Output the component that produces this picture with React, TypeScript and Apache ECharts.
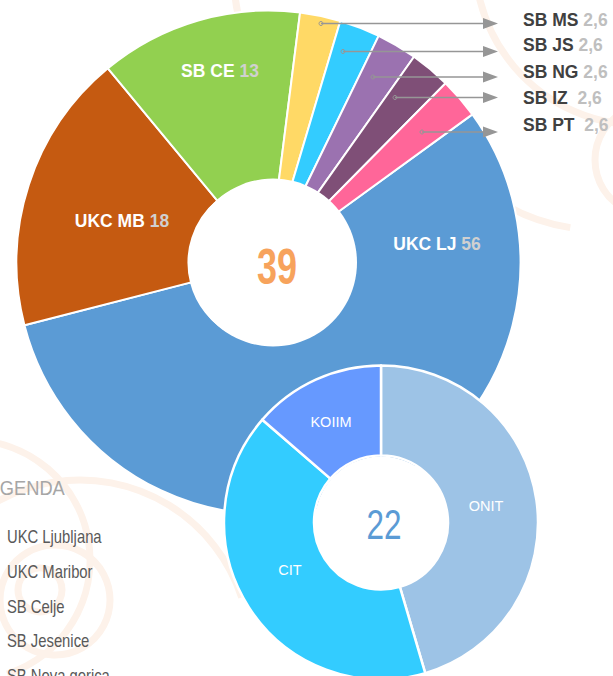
import React, { useEffect, useRef } from "react";
import * as echarts from "echarts";

// ---- data ----
const BIG_NAMES = ["UKC LJ", "UKC MB", "SB CE", "SB MS", "SB JS", "SB NG", "SB IZ", "SB PT"];
const BIG_VALUES = [56, 18, 13, 2.6, 2.6, 2.6, 2.6, 2.6];
const BIG_TOTAL = "39";
const SMALL_NAMES = ["ONIT", "CIT", "KOIIM"];
const SMALL_VALUES = [10, 9, 3];
const SMALL_TOTAL = "22";
const LEGEND_TITLE = "LEGENDA";
const LEGEND_LABELS = ["UKC Ljubljana", "UKC Maribor", "SB Celje", "SB Jesenice", "SB Nova gorica"];

// ---- styling / layout ----
const BIG_COLORS = ["#5b9bd5", "#c55a11", "#92d050", "#ffd966", "#33ccff", "#9b72b0", "#7f4f77", "#ff6699"];
const SMALL_COLORS = ["#9dc3e6", "#33ccff", "#6699ff"];
const BIG_LABEL_POS = [
  [437, 244, "center"], [122, 221, "center"], [220, 71, "center"],
  [523, 20, "left"], [523, 45, "left"], [523, 72, "left"], [523, 98, "left"], [523, 125, "left"],
];
const BIG_LABEL_GAP = [" ", " ", " ", " ", " ", " ", "  ", "  "];
const SMALL_LABEL_POS = [[486, 506], [290, 570], [331, 422]];
const ARROW_ROWS = [
  [321, 23.5], [343, 51.5], [373, 77], [395, 97.5], [422, 132],
];
const ARROW_TIP_X = 498;
const LEGEND_TOP = 537;
const LEGEND_STEP = 34.8;

const SANS = "'Liberation Sans', Arial, sans-serif";

const fmt = (v: number) => String(v).replace(".", ",");

export default function App() {
  const ref = useRef<HTMLDivElement>(null);
  useEffect(() => {
    if (!ref.current) return;
    const chart = echarts.init(ref.current, undefined, { renderer: "svg" });
    const swirl = "#fdf2ea";
    const bg = [
      { cx: 640, cy: -40, r: 165, s: Math.PI * 0.5, e: Math.PI * 1.05 },
      { cx: 650, cy: 160, r: 55, s: 0, e: Math.PI * 2 },
      { cx: 600, cy: 40, r: 190, s: Math.PI * 0.55, e: Math.PI * 0.95 },
      { cx: 330, cy: -10, r: 95, s: Math.PI * 0.5, e: Math.PI * 1.0 },
      { cx: 80, cy: 650, r: 170, s: Math.PI * 1.0, e: Math.PI * 1.9 },
      { cx: 55, cy: 600, r: 55, s: 0, e: Math.PI * 2 },
      { cx: 40, cy: 590, r: 22, s: 0, e: Math.PI * 2 },
      { cx: -30, cy: 560, r: 120, s: Math.PI * 1.5, e: Math.PI * 2.4 },
    ].map((a) => ({
      type: "arc",
      z: -10,
      shape: { cx: a.cx, cy: a.cy, r: a.r, startAngle: a.s, endAngle: a.e },
      style: { stroke: swirl, lineWidth: 7, fill: "none" },
      silent: true,
    }));

    const arrows: any[] = [];
    ARROW_ROWS.forEach(([x, y]) => {
      arrows.push({
        type: "line", z: 20,
        shape: { x1: x, y1: y, x2: ARROW_TIP_X - 12, y2: y },
        style: { stroke: "#969696", lineWidth: 1.5 },
      });
      arrows.push({
        type: "polygon", z: 20,
        shape: { points: [[ARROW_TIP_X - 15, y - 5.5], [ARROW_TIP_X, y], [ARROW_TIP_X - 15, y + 5.5]] },
        style: { fill: "#969696" },
      });
      arrows.push({
        type: "circle", z: 21,
        shape: { cx: x, cy: y, r: 2 },
        style: { fill: "none", stroke: "#969696", lineWidth: 1 },
      });
    });

    const legendTexts = LEGEND_LABELS.map((t, i) => ({
      type: "text", z: 11, x: 7, y: LEGEND_TOP + i * LEGEND_STEP, scaleX: 0.8,
      style: { text: t, fill: "#595959", font: `18.5px ${SANS}`, textAlign: "left", textVerticalAlign: "middle" },
    }));

    chart.setOption({
      animation: false,
      backgroundColor: "#ffffff",
      graphic: [
        ...bg,
        { type: "circle", z: 10, shape: { cx: 273, cy: 262.5, r: 84 }, style: { fill: "#ffffff" } },
        { type: "circle", z: 10, shape: { cx: 381, cy: 522.5, r: 66 }, style: { fill: "#ffffff" } },
        {
          type: "text", z: 11, x: 277, y: 267, scaleX: 0.72,
          style: { text: BIG_TOTAL, fill: "#f7a35c", font: `bold 50px ${SANS}`, textAlign: "center", textVerticalAlign: "middle" },
        },
        {
          type: "text", z: 11, x: 384, y: 524, scaleX: 0.75,
          style: { text: SMALL_TOTAL, fill: "#5b9bd5", font: `42px ${SANS}`, textAlign: "center", textVerticalAlign: "middle" },
        },
        {
          type: "text", z: 11, x: -22.5, y: 488, scaleX: 0.87,
          style: { text: LEGEND_TITLE, fill: "#a6a6a6", font: `21px ${SANS}`, textAlign: "left", textVerticalAlign: "middle" },
        },
        ...legendTexts,
        ...arrows,
      ],
      series: [
        {
          type: "pie",
          center: [268.5, 262.5],
          radius: [80, 252],
          startAngle: 36,
          clockwise: true,
          emphasis: { disabled: true },
          itemStyle: { borderColor: "#ffffff", borderWidth: 2 },
          data: BIG_NAMES.map((n, i) => ({ name: n, value: BIG_VALUES[i], itemStyle: { color: BIG_COLORS[i] } })),
          labelLine: { show: false },
          label: {
            show: true,
            position: "inside",
            formatter: (p: any) =>
              p.dataIndex < 3
                ? `{a|${p.name}}${BIG_LABEL_GAP[p.dataIndex]}{b|${fmt(p.value)}}`
                : `{c|${p.name}}${BIG_LABEL_GAP[p.dataIndex]}{d|${fmt(p.value)}}`,
            fontFamily: SANS,
            fontWeight: "bold",
            fontSize: 17.5,
            rich: {
              a: { color: "#ffffff", fontWeight: "bold", fontSize: 17.5, fontFamily: SANS },
              b: { color: "#d0d0d0", fontWeight: "bold", fontSize: 17.5, fontFamily: SANS },
              c: { color: "#404040", fontWeight: "bold", fontSize: 17.5, fontFamily: SANS },
              d: { color: "#bfbfbf", fontWeight: "bold", fontSize: 17.5, fontFamily: SANS },
            },
          },
          labelLayout: (p: any) => {
            const pos = BIG_LABEL_POS[p.dataIndex];
            return { x: pos[0], y: pos[1], align: pos[2], verticalAlign: "middle" };
          },
        },
        {
          type: "pie",
          center: [381, 522.5],
          radius: [67, 157],
          startAngle: 90,
          clockwise: true,
          emphasis: { disabled: true },
          itemStyle: { borderColor: "#ffffff", borderWidth: 2.5 },
          data: SMALL_NAMES.map((n, i) => ({ name: n, value: SMALL_VALUES[i], itemStyle: { color: SMALL_COLORS[i] } })),
          labelLine: { show: false },
          label: {
            show: true,
            position: "inside",
            formatter: "{b}",
            color: "#ffffff",
            fontSize: 14.5,
            fontFamily: SANS,
          },
          labelLayout: (p: any) => {
            const pos = SMALL_LABEL_POS[p.dataIndex];
            return { x: pos[0], y: pos[1], align: "center", verticalAlign: "middle" };
          },
        },
      ],
    });
    return () => chart.dispose();
  }, []);
  return (
    <div
      ref={ref}
      style={{ position: "absolute", left: 0, top: 0, width: 613, height: 676, overflow: "hidden" }}
    />
  );
}
